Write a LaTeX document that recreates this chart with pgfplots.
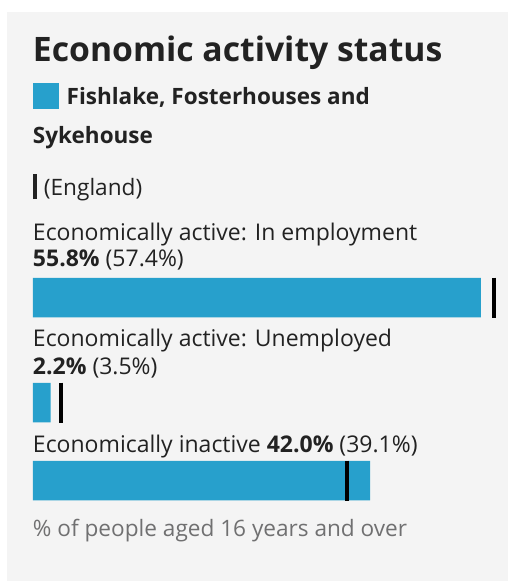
\documentclass[border=0pt]{standalone}
\usepackage{pgfplots}
\pgfplotsset{compat=1.18}
\usepackage{fontspec}
\setmainfont{Open Sans}
\definecolor{barblue}{HTML}{27A0CC}
\definecolor{panel}{HTML}{F4F4F4}
\definecolor{txt}{HTML}{222222}
\definecolor{note}{HTML}{707071}
\begin{document}
\begin{tikzpicture}[t/.style={inner sep=0pt, outer sep=0pt, anchor=base west, text=txt}]
\begin{axis}[
  scale only axis, width=508pt, height=581pt,
  xmin=-4.112, xmax=59.19, ymin=0, ymax=581, y dir=reverse,
  hide axis, clip=false,
]
\fill[white] (axis cs:-4.112,0) rectangle (axis cs:59.19,581);
\fill[panel] (axis cs:-3.24,12) rectangle (axis cs:59.19,581);
\node[t] at (axis cs:0,61) {\fontsize{33.7}{38}\selectfont\bfseries Economic activity status};
\node[t] at (axis cs:0,109.3) {\textcolor{barblue}{\rule{26pt}{26pt}}};
\node[t] at (axis cs:4.20,104.3) {\fontsize{22.5}{24}\selectfont\bfseries Fishlake, Fosterhouses and};
\node[t] at (axis cs:0,143.3) {\fontsize{22.5}{24}\selectfont\bfseries Sykehouse};
\node[t] at (axis cs:0,199) {\rule{4pt}{25pt}};
\node[t] at (axis cs:1.37,195) {\fontsize{22.6}{24}\selectfont (England)};
\node[t] at (axis cs:0,240.7) {\fontsize{23}{24}\selectfont Economically active: In employment};
\node[t] at (axis cs:0,266.7) {\fontsize{23}{24}\selectfont\textbf{55.8\%} (57.4\%)};
\node[t] at (axis cs:0,346.7) {\fontsize{23}{24}\selectfont Economically active: Unemployed};
\node[t] at (axis cs:0,374) {\fontsize{23}{24}\selectfont\textbf{2.2\%} (3.5\%)};
\node[t] at (axis cs:0,452.3) {\fontsize{23}{24}\selectfont Economically inactive \textbf{42.0\%} (39.1\%)};
\node[t] at (axis cs:0,536.7) {\fontsize{22.6}{24}\selectfont\color{note}\% of people aged 16 years and over};
\addplot[xbar, bar shift=0pt, bar width=39.5, fill=barblue, draw=none]
  coordinates {(55.8,297.7) (2.2,402.7) (42.0,480.5)};
\addplot[only marks, mark=|, mark size=20pt, mark options={line width=4pt, draw=black}]
  coordinates {(57.4,297.7) (3.5,402.7) (39.1,480.5)};
\end{axis}
\end{tikzpicture}
\end{document}
